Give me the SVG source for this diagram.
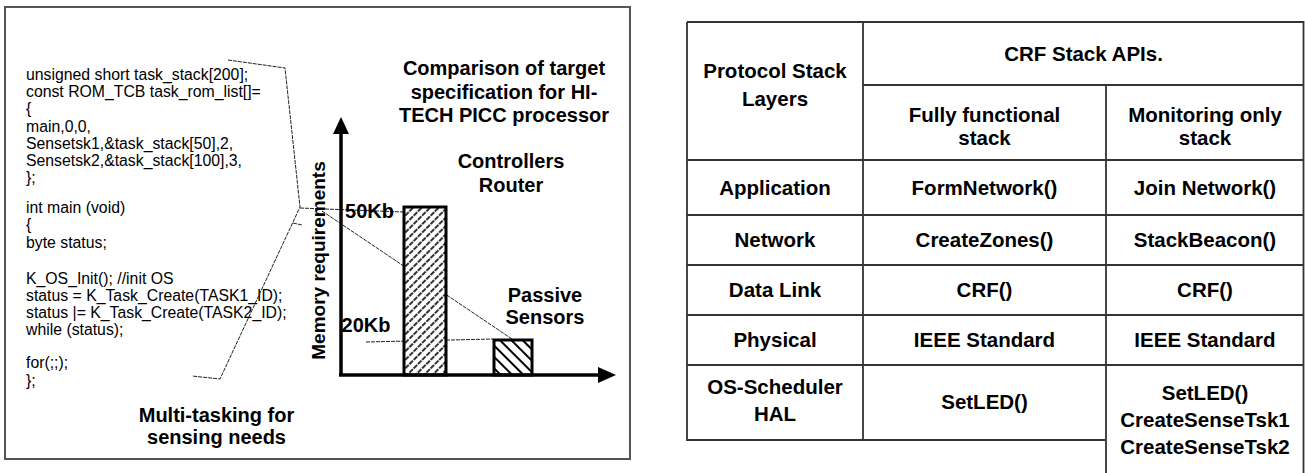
<svg xmlns="http://www.w3.org/2000/svg" width="1305" height="473" viewBox="0 0 1305 473">
<style>
text{font-family:"Liberation Sans",Arial,sans-serif;fill:#000}
.code{font-size:15.8px}
.b{font-weight:bold;font-size:20px;text-anchor:middle}
.t{font-weight:bold;font-size:20.5px;text-anchor:middle}
.grid{stroke:#333;stroke-width:1.8;fill:none}
.call{stroke:#222;stroke-width:1;fill:none;stroke-dasharray:4 1}
.axis{stroke:#000;stroke-width:3.5;fill:none}
</style>
<defs>
<pattern id="h1" patternUnits="userSpaceOnUse" width="6" height="6" patternTransform="rotate(45)">
<rect width="6" height="6" fill="#fff"/>
<line x1="1" y1="0" x2="1" y2="6" stroke="#000" stroke-width="1.6" stroke-dasharray="4 1"/>
</pattern>
<pattern id="h2" patternUnits="userSpaceOnUse" width="8" height="8" patternTransform="rotate(-45)">
<rect width="8" height="8" fill="#fff"/>
<line x1="1" y1="0" x2="1" y2="8" stroke="#000" stroke-width="2"/>
</pattern>
</defs>
<rect width="1305" height="473" fill="#fff"/>

<g id="left-panel">
<rect x="5" y="7" width="625" height="452" fill="none" stroke="#555" stroke-width="2"/>
</g>

<g id="code">
<text class="code" x="26" y="80">unsigned short task_stack[200];</text>
<text class="code" x="26" y="97.2">const ROM_TCB task_rom_list[]=</text>
<text class="code" x="26" y="114.4">{</text>
<text class="code" x="26" y="131.6">main,0,0,</text>
<text class="code" x="26" y="148.8">Sensetsk1,&amp;task_stack[50],2,</text>
<text class="code" x="26" y="166">Sensetsk2,&amp;task_stack[100],3,</text>
<text class="code" x="26" y="183.2">};</text>
<text class="code" x="26" y="213">int main (void)</text>
<text class="code" x="26" y="230">{</text>
<text class="code" x="26" y="248">byte status;</text>
<text class="code" x="26" y="284">K_OS_Init(); //init OS</text>
<text class="code" x="26" y="301">status = K_Task_Create(TASK1_ID);</text>
<text class="code" x="26" y="318">status |= K_Task_Create(TASK2_ID);</text>
<text class="code" x="26" y="335">while (status);</text>
<text class="code" x="26" y="368">for(;;);</text>
<text class="code" x="26" y="386">};</text>
<text class="b" x="216.5" y="421.5">Multi-tasking for</text>
<text class="b" x="216.5" y="443.5">sensing needs</text>
</g>

<g id="connectors">
<path class="call" d="M228,60 L285,68 L300,207 L220,379 L192,376"/>
<path class="call" d="M300,208 L403,212"/>
<path class="call" d="M293,223 L302,225"/>
<path class="call" d="M322,211 L512,339"/>
<path class="call" d="M366,342 L493,339"/>
</g>

<g id="chart">
<rect x="404" y="207" width="42" height="168" fill="url(#h1)" stroke="#000" stroke-width="3"/>
<rect x="494" y="340" width="38" height="35" fill="url(#h2)" stroke="#000" stroke-width="3"/>
<line class="axis" x1="341" y1="376" x2="341" y2="132"/>
<polygon points="341,117 333,134 349,134" fill="#000"/>
<line class="axis" x1="339" y1="375" x2="600" y2="375"/>
<polygon points="616,375 598,367 598,383" fill="#000"/>
<text class="b" x="369.5" y="218">50Kb</text>
<text class="b" x="366" y="332">20Kb</text>
<text class="b" transform="translate(324.5,260.5) rotate(-90)" style="font-size:19px">Memory requirements</text>
<text class="b" x="504" y="75">Comparison of target</text>
<text class="b" x="504" y="98.5">specification for HI-</text>
<text class="b" x="504" y="122">TECH PICC processor</text>
<text class="b" x="511" y="168">Controllers</text>
<text class="b" x="511" y="192">Router</text>
<text class="b" x="545" y="302">Passive</text>
<text class="b" x="545" y="324">Sensors</text>
</g>

<g id="table">
<path class="grid" d="M687,22 H1303.5 V473 M687,22 V440 H1106 M863,22 V440 M1106,85 V473 M863,85 H1303.5 M687,160 H1303.5 M687,215 H1303.5 M687,265 H1303.5 M687,315 H1303.5 M687,365 H1303.5"/>
<text class="t" x="775" y="78">Protocol Stack</text>
<text class="t" x="775" y="105.5">Layers</text>
<text class="t" x="1083.5" y="61">CRF Stack APIs.</text>
<text class="t" x="984.5" y="121.5">Fully functional</text>
<text class="t" x="984.5" y="145">stack</text>
<text class="t" x="1205" y="121.5">Monitoring only</text>
<text class="t" x="1205" y="145">stack</text>
<text class="t" x="775" y="194.8">Application</text>
<text class="t" x="984.5" y="194.8">FormNetwork()</text>
<text class="t" x="1205" y="194.8">Join Network()</text>
<text class="t" x="775" y="247.3">Network</text>
<text class="t" x="984.5" y="247.3">CreateZones()</text>
<text class="t" x="1205" y="247.3">StackBeacon()</text>
<text class="t" x="775" y="297.3">Data Link</text>
<text class="t" x="984.5" y="297.3">CRF()</text>
<text class="t" x="1205" y="297.3">CRF()</text>
<text class="t" x="775" y="347.3">Physical</text>
<text class="t" x="984.5" y="347.3">IEEE Standard</text>
<text class="t" x="1205" y="347.3">IEEE Standard</text>
<text class="t" x="775" y="394">OS-Scheduler</text>
<text class="t" x="775" y="421">HAL</text>
<text class="t" x="984.5" y="408.5">SetLED()</text>
<text class="t" x="1205" y="400">SetLED()</text>
<text class="t" x="1205" y="427">CreateSenseTsk1</text>
<text class="t" x="1205" y="454">CreateSenseTsk2</text>
</g>
</svg>
